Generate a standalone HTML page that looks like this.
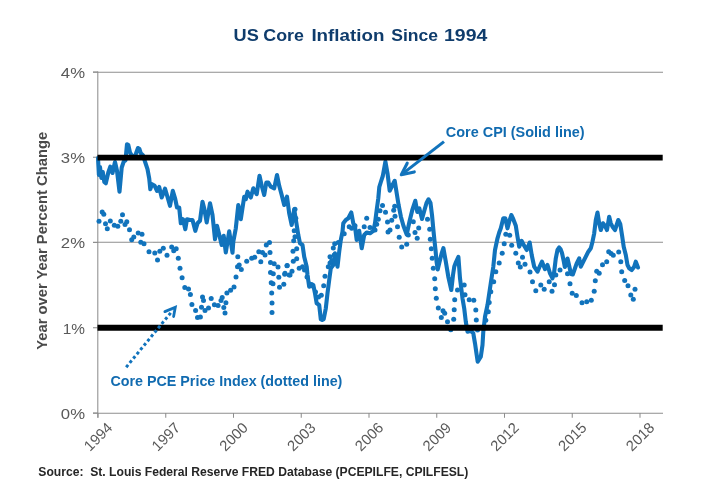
<!DOCTYPE html>
<html><head><meta charset="utf-8"><title>US Core Inflation Since 1994</title>
<style>
html,body{margin:0;padding:0;background:#fff;}
body{width:720px;height:500px;overflow:hidden;font-family:"Liberation Sans",sans-serif;}
svg{display:block;will-change:transform;}
text{font-family:"Liberation Sans",sans-serif;}
</style></head><body>
<svg width="720" height="500" viewBox="0 0 720 500">
<rect width="720" height="500" fill="#fff"/>
<g font-size="16.6" font-weight="bold" fill="#0f3c6c"><text x="233.6" y="41.3" textLength="25.2" lengthAdjust="spacingAndGlyphs">US</text><text x="263.3" y="41.3" textLength="40.6" lengthAdjust="spacingAndGlyphs">Core</text><text x="311.4" y="41.3" textLength="73" lengthAdjust="spacingAndGlyphs">Inflation</text><text x="391.2" y="41.3" textLength="46.8" lengthAdjust="spacingAndGlyphs">Since</text><text x="444.0" y="41.3" textLength="43.3" lengthAdjust="spacingAndGlyphs">1994</text></g>
<g stroke="#8e8e8e" stroke-width="1.05" fill="none">
<line x1="93" y1="72.3" x2="663" y2="72.3"/>
<line x1="93" y1="242.3" x2="663" y2="242.3"/>
<line x1="97.8" y1="71.6" x2="97.8" y2="417.8"/>
<line x1="93" y1="413.2" x2="663" y2="413.2"/>
<line x1="98.0" y1="413" x2="98.0" y2="417.8"/><line x1="165.75" y1="413" x2="165.75" y2="417.8"/><line x1="233.5" y1="413" x2="233.5" y2="417.8"/><line x1="301.25" y1="413" x2="301.25" y2="417.8"/><line x1="369.0" y1="413" x2="369.0" y2="417.8"/><line x1="436.75" y1="413" x2="436.75" y2="417.8"/><line x1="504.5" y1="413" x2="504.5" y2="417.8"/><line x1="572.25" y1="413" x2="572.25" y2="417.8"/><line x1="640.0" y1="413" x2="640.0" y2="417.8"/><line x1="93" y1="413.0" x2="98" y2="413.0"/><line x1="93" y1="327.75" x2="98" y2="327.75"/><line x1="93" y1="242.5" x2="98" y2="242.5"/><line x1="93" y1="157.25" x2="98" y2="157.25"/><line x1="93" y1="72.0" x2="98" y2="72.0"/>
</g>
<g font-size="14.8" fill="#595959"><text transform="translate(85.0,418.80) scale(1.13,1)" text-anchor="end">0%</text><text transform="translate(85.0,333.55) scale(1.04,1)" text-anchor="end">1%</text><text transform="translate(85.0,248.30) scale(1.13,1)" text-anchor="end">2%</text><text transform="translate(85.0,163.05) scale(1.13,1)" text-anchor="end">3%</text><text transform="translate(85.0,77.80) scale(1.13,1)" text-anchor="end">4%</text><text transform="translate(98.0,436.5) rotate(-45)" text-anchor="middle" y="5.3">1994</text><text transform="translate(165.75,436.5) rotate(-45)" text-anchor="middle" y="5.3">1997</text><text transform="translate(233.5,436.5) rotate(-45)" text-anchor="middle" y="5.3">2000</text><text transform="translate(301.25,436.5) rotate(-45)" text-anchor="middle" y="5.3">2003</text><text transform="translate(369.0,436.5) rotate(-45)" text-anchor="middle" y="5.3">2006</text><text transform="translate(436.75,436.5) rotate(-45)" text-anchor="middle" y="5.3">2009</text><text transform="translate(504.5,436.5) rotate(-45)" text-anchor="middle" y="5.3">2012</text><text transform="translate(572.25,436.5) rotate(-45)" text-anchor="middle" y="5.3">2015</text><text transform="translate(640.0,436.5) rotate(-45)" text-anchor="middle" y="5.3">2018</text></g>
<text transform="translate(47.2,240.8) rotate(-90)" text-anchor="middle" font-size="13.8" font-weight="bold" fill="#4a4a4a" textLength="218" lengthAdjust="spacingAndGlyphs">Year over Year Percent Change</text>
<path d="M98,158 L98.9,175 L100,167 L101.4,178 L102.8,172 L104.3,182 L105.8,183.3 L108.3,172.5 L110.3,166.7 L112.5,173.0 L115.0,162.0 L117.0,170.8 L119.5,191.7 L121.7,167.5 L123.7,161.7 L125.5,160.3 L127.0,144.2 L128.3,145.0 L130.0,152.5 L132.0,155.8 L135.0,156.3 L138.0,148.0 L139.3,148.7 L140.8,153.3 L143.0,155.3 L145.0,161.7 L147.5,169.2 L149.2,178.3 L150.3,189.2 L152.0,184.2 L154.7,185.8 L157.0,190.8 L159.2,187.0 L161.7,197.5 L165.0,188.7 L167.5,197.0 L170.0,205.8 L172.8,190.8 L175.0,198.0 L177.0,207.5 L179.2,207.5 L180.8,223.3 L183.0,219.2 L185.3,229.2 L187.0,219.2 L190.0,220.0 L192.5,220.0 L195.3,230.8 L197.5,223.3 L200.0,220.8 L202.5,201.7 L204.2,208.3 L206.7,222.5 L210.0,203.3 L212.5,215.0 L215.0,239.2 L217.0,225.8 L218.7,232.5 L221.7,245.0 L223.7,235.8 L225.8,252.5 L229.2,231.3 L232.5,252.8 L233.3,241.7 L235.8,228.3 L238.3,205.0 L240.8,219.2 L244.2,196.7 L245.8,199.2 L247.5,191.7 L250.8,197.5 L253.3,188.3 L256.7,194.2 L259.5,175.8 L261.7,185.8 L264.2,195.0 L266.3,182.5 L268.3,182.5 L270.8,186.7 L274.2,188.3 L277.0,175.0 L279.2,185.8 L281.7,195.0 L284.2,205.0 L287.0,196.7 L289.2,213.3 L291.7,225.0 L294.2,209.2 L296.7,225.0 L298.3,235.0 L300.0,243.3 L302.5,245.0 L304.2,256.7 L306.7,266.7 L307.5,275.0 L309.2,286.7 L311.7,284.2 L313.3,285.0 L315.0,293.3 L316.7,303.3 L319.2,305.0 L320.8,319.2 L322.2,320.0 L323.7,319.2 L325.8,308.3 L327.5,293.3 L329.2,280.0 L330.8,268.3 L333.3,265.0 L335.0,253.3 L337.5,266.7 L339.2,251.7 L340.8,240.0 L342.5,231.7 L343.3,223.3 L345.8,220.0 L348.3,218.3 L351.3,212.5 L353.3,223.3 L355.0,226.7 L356.7,240.0 L359.2,230.8 L361.7,248.3 L364.2,235.0 L366.7,232.5 L370.0,233.3 L373.3,230.8 L375.0,223.3 L376.7,210.0 L378.3,198.3 L379.3,187 L381,181.5 L382.8,176 L385.4,161.6 L387.5,173.3 L389.7,190.8 L392.5,185.0 L394.7,180.8 L396.7,193.3 L398.6,205 L400.9,216.7 L403.5,226 L406.7,234.5 L409.6,221 L412.3,210 L415.3,200.8 L417.3,212 L419.3,208.3 L422,219 L424.5,210 L426.5,203 L428.5,199.3 L430.5,203 L432,215 L433.3,229 L434.4,240 L435.5,250 L436.6,262 L437.7,269.5 L439.5,262 L441.5,254 L443.4,248.2 L445.8,261.7 L448.3,276.7 L451.3,290 L453,275 L454.3,266.5 L456,262 L458.4,256.8 L460,278.3 L462.5,298.3 L464.2,308.3 L465.8,321.7 L467.5,331.7 L470.8,330.8 L473.3,333.3 L475.0,343.3 L476.7,355.0 L477.7,361.7 L480.8,356.7 L482.5,345.0 L483.3,331.7 L485.0,316.7 L487.5,305.0 L490.8,283.0 L493.3,266.7 L495.0,250.0 L497.5,238.3 L499.2,232.5 L500.8,228.3 L503.3,218.3 L505.3,218.3 L507.5,228.3 L509.2,221.7 L511.3,215.0 L513.3,219.2 L515.8,225.8 L517.5,236.7 L519.2,246.7 L521.7,240.8 L524.2,245.8 L526.7,250.0 L529.7,242.5 L531.7,255.0 L534.2,266.7 L537.5,271.7 L540.0,265.8 L542.0,261.7 L545.0,269.2 L547.5,265.0 L550.0,273.3 L552.5,278.3 L554.2,271.7 L555.8,258.3 L557.5,250.0 L559.2,247.5 L560.5,249 L562,253 L563.5,260 L564.8,267 L566.3,264 L567.5,258.5 L569,265 L571,274 L572.8,274.5 L575.0,268.3 L576.7,263.3 L579.2,258.3 L580.8,266.7 L583.3,261.7 L585.8,256.7 L588.3,251.7 L590.8,248.3 L592.5,241.7 L594.2,233.3 L595.8,220.0 L597.5,212.5 L599.2,223.3 L600.8,230.0 L603.0,223.3 L605.0,225.8 L607.0,230.0 L609.2,216.7 L610.8,223.3 L612.5,226.7 L615.0,230.0 L618.3,220.0 L620.3,224.2 L622.0,235.0 L623.7,246.7 L625.8,255.0 L627.5,265.0 L629.2,268.3 L631.7,270.0 L634.2,266.7 L635.8,261.7 L638.0,267.5" fill="none" stroke="#1173bc" stroke-width="4.1" stroke-linejoin="round" stroke-linecap="round"/>
<g fill="#1173bc"><circle cx="99.0" cy="221.2" r="2.5"/><circle cx="102.2" cy="212.0" r="2.5"/><circle cx="103.8" cy="214.2" r="2.5"/><circle cx="105.5" cy="223.8" r="2.5"/><circle cx="107.3" cy="228.7" r="2.5"/><circle cx="110.3" cy="221.0" r="2.5"/><circle cx="114.3" cy="225.3" r="2.5"/><circle cx="117.8" cy="226.2" r="2.5"/><circle cx="120.8" cy="221.3" r="2.5"/><circle cx="122.5" cy="214.8" r="2.5"/><circle cx="125.0" cy="224.5" r="2.5"/><circle cx="126.8" cy="221.8" r="2.5"/><circle cx="129.5" cy="229.8" r="2.5"/><circle cx="131.7" cy="239.7" r="2.5"/><circle cx="133.8" cy="237.0" r="2.5"/><circle cx="138.2" cy="233.0" r="2.5"/><circle cx="142.0" cy="234.2" r="2.5"/><circle cx="140.8" cy="242.2" r="2.5"/><circle cx="144.0" cy="243.8" r="2.5"/><circle cx="149.0" cy="251.8" r="2.5"/><circle cx="154.8" cy="253.0" r="2.5"/><circle cx="159.8" cy="251.2" r="2.5"/><circle cx="163.3" cy="248.2" r="2.5"/><circle cx="157.5" cy="260.0" r="2.5"/><circle cx="167.0" cy="255.3" r="2.5"/><circle cx="171.7" cy="247.0" r="2.5"/><circle cx="173.7" cy="250.8" r="2.5"/><circle cx="176.2" cy="248.8" r="2.5"/><circle cx="178.3" cy="258.3" r="2.5"/><circle cx="180.0" cy="268.3" r="2.5"/><circle cx="182.1" cy="277.8" r="2.5"/><circle cx="184.8" cy="287.5" r="2.5"/><circle cx="188.5" cy="289.0" r="2.5"/><circle cx="190.4" cy="294.4" r="2.5"/><circle cx="191.9" cy="304.4" r="2.5"/><circle cx="195.6" cy="310.4" r="2.5"/><circle cx="197.5" cy="317.5" r="2.5"/><circle cx="200.4" cy="316.9" r="2.5"/><circle cx="201.5" cy="307.2" r="2.5"/><circle cx="202.5" cy="296.9" r="2.5"/><circle cx="203.5" cy="300.6" r="2.5"/><circle cx="205.0" cy="310.6" r="2.5"/><circle cx="208.5" cy="308.1" r="2.5"/><circle cx="211.2" cy="298.4" r="2.5"/><circle cx="214.4" cy="304.8" r="2.5"/><circle cx="218.1" cy="305.6" r="2.5"/><circle cx="221.0" cy="300.6" r="2.5"/><circle cx="222.2" cy="297.5" r="2.5"/><circle cx="223.8" cy="307.5" r="2.5"/><circle cx="225.9" cy="302.8" r="2.5"/><circle cx="225.0" cy="312.9" r="2.5"/><circle cx="226.9" cy="292.9" r="2.5"/><circle cx="230.6" cy="290.2" r="2.5"/><circle cx="234.0" cy="287.1" r="2.5"/><circle cx="236.0" cy="276.9" r="2.5"/><circle cx="237.5" cy="266.7" r="2.5"/><circle cx="239.2" cy="265.0" r="2.5"/><circle cx="241.3" cy="269.5" r="2.5"/><circle cx="237.8" cy="256.7" r="2.5"/><circle cx="246.7" cy="261.2" r="2.5"/><circle cx="251.7" cy="258.3" r="2.5"/><circle cx="254.7" cy="257.2" r="2.5"/><circle cx="258.8" cy="251.7" r="2.5"/><circle cx="262.5" cy="252.5" r="2.5"/><circle cx="265.0" cy="255.0" r="2.5"/><circle cx="260.8" cy="261.7" r="2.5"/><circle cx="266.3" cy="245.0" r="2.5"/><circle cx="269.5" cy="242.5" r="2.5"/><circle cx="270.0" cy="252.5" r="2.5"/><circle cx="270.5" cy="262.5" r="2.5"/><circle cx="274.2" cy="263.7" r="2.5"/><circle cx="278.0" cy="267.0" r="2.5"/><circle cx="270.5" cy="272.5" r="2.5"/><circle cx="273.3" cy="273.7" r="2.5"/><circle cx="278.8" cy="277.2" r="2.5"/><circle cx="271.2" cy="282.8" r="2.5"/><circle cx="273.0" cy="283.7" r="2.5"/><circle cx="279.5" cy="287.2" r="2.5"/><circle cx="283.8" cy="284.2" r="2.5"/><circle cx="271.7" cy="293.0" r="2.5"/><circle cx="272.0" cy="303.0" r="2.5"/><circle cx="272.0" cy="312.5" r="2.5"/><circle cx="284.7" cy="274.2" r="2.5"/><circle cx="287.2" cy="265.5" r="2.5"/><circle cx="289.2" cy="275.0" r="2.5"/><circle cx="295.0" cy="209.2" r="2.5"/><circle cx="295.8" cy="218.3" r="2.5"/><circle cx="294.2" cy="230.8" r="2.5"/><circle cx="295.0" cy="236.7" r="2.5"/><circle cx="293.7" cy="240.8" r="2.5"/><circle cx="296.7" cy="248.7" r="2.5"/><circle cx="293.0" cy="251.3" r="2.5"/><circle cx="296.7" cy="258.8" r="2.5"/><circle cx="293.3" cy="261.2" r="2.5"/><circle cx="287.0" cy="265.8" r="2.5"/><circle cx="299.2" cy="268.3" r="2.5"/><circle cx="302.5" cy="266.7" r="2.5"/><circle cx="292.0" cy="271.3" r="2.5"/><circle cx="285.0" cy="273.3" r="2.5"/><circle cx="290.0" cy="275.0" r="2.5"/><circle cx="611" cy="253.6" r="2.5"/><circle cx="304.5" cy="270" r="2.5"/><circle cx="307" cy="277" r="2.5"/><circle cx="309.5" cy="284" r="2.5"/><circle cx="312.5" cy="286" r="2.5"/><circle cx="315.5" cy="292" r="2.5"/><circle cx="318.5" cy="297" r="2.5"/><circle cx="325.0" cy="276.2" r="2.5"/><circle cx="323.7" cy="285.8" r="2.5"/><circle cx="321.3" cy="295.3" r="2.5"/><circle cx="328.3" cy="266.7" r="2.5"/><circle cx="330.0" cy="263.0" r="2.5"/><circle cx="331.7" cy="260.8" r="2.5"/><circle cx="330.0" cy="256.7" r="2.5"/><circle cx="334.2" cy="255.0" r="2.5"/><circle cx="333.3" cy="248.0" r="2.5"/><circle cx="334.7" cy="243.7" r="2.5"/><circle cx="338.3" cy="242.5" r="2.5"/><circle cx="344.2" cy="233.7" r="2.5"/><circle cx="349.2" cy="226.7" r="2.5"/><circle cx="351.7" cy="228.3" r="2.5"/><circle cx="355.0" cy="225.8" r="2.5"/><circle cx="364.2" cy="226.7" r="2.5"/><circle cx="366.7" cy="218.3" r="2.5"/><circle cx="370.0" cy="227.5" r="2.5"/><circle cx="375.0" cy="230.0" r="2.5"/><circle cx="376.7" cy="224.2" r="2.5"/><circle cx="378.3" cy="219.2" r="2.5"/><circle cx="380.0" cy="210.8" r="2.5"/><circle cx="382.5" cy="205.5" r="2.5"/><circle cx="385.5" cy="212.2" r="2.5"/><circle cx="387.5" cy="222.0" r="2.5"/><circle cx="391.7" cy="220.3" r="2.5"/><circle cx="395.0" cy="216.2" r="2.5"/><circle cx="393.7" cy="210.3" r="2.5"/><circle cx="394.7" cy="206.3" r="2.5"/><circle cx="390.0" cy="230.0" r="2.5"/><circle cx="388.0" cy="232.0" r="2.5"/><circle cx="397.5" cy="226.7" r="2.5"/><circle cx="399.2" cy="237.2" r="2.5"/><circle cx="406.7" cy="244.2" r="2.5"/><circle cx="401.7" cy="247.0" r="2.5"/><circle cx="408.3" cy="235.0" r="2.5"/><circle cx="413.3" cy="221.7" r="2.5"/><circle cx="418.7" cy="228.0" r="2.5"/><circle cx="415.0" cy="232.5" r="2.5"/><circle cx="417.2" cy="238.3" r="2.5"/><circle cx="427.5" cy="219.2" r="2.5"/><circle cx="429.7" cy="229.2" r="2.5"/><circle cx="430.3" cy="239.2" r="2.5"/><circle cx="431.3" cy="248.7" r="2.5"/><circle cx="432.2" cy="258.3" r="2.5"/><circle cx="433.3" cy="268.3" r="2.5"/><circle cx="434.7" cy="278.8" r="2.5"/><circle cx="435.3" cy="288.7" r="2.5"/><circle cx="436.3" cy="298.3" r="2.5"/><circle cx="438.3" cy="308.0" r="2.5"/><circle cx="443.0" cy="310.8" r="2.5"/><circle cx="444.7" cy="313.3" r="2.5"/><circle cx="441.3" cy="317.5" r="2.5"/><circle cx="447.5" cy="321.7" r="2.5"/><circle cx="453.7" cy="319.2" r="2.5"/><circle cx="454.2" cy="309.7" r="2.5"/><circle cx="454.7" cy="299.7" r="2.5"/><circle cx="457.5" cy="290.0" r="2.5"/><circle cx="464.2" cy="285.0" r="2.5"/><circle cx="465.0" cy="294.7" r="2.5"/><circle cx="469.2" cy="299.7" r="2.5"/><circle cx="473.8" cy="300.3" r="2.5"/><circle cx="475.8" cy="310.0" r="2.5"/><circle cx="476.3" cy="320.0" r="2.5"/><circle cx="488.3" cy="311.7" r="2.5"/><circle cx="489.2" cy="302.5" r="2.5"/><circle cx="490.8" cy="291.7" r="2.5"/><circle cx="493.7" cy="281.7" r="2.5"/><circle cx="495.8" cy="271.7" r="2.5"/><circle cx="499.2" cy="263.0" r="2.5"/><circle cx="502.2" cy="253.3" r="2.5"/><circle cx="504.2" cy="243.7" r="2.5"/><circle cx="511.7" cy="245.3" r="2.5"/><circle cx="515.8" cy="253.3" r="2.5"/><circle cx="522.5" cy="257.2" r="2.5"/><circle cx="518.3" cy="263.0" r="2.5"/><circle cx="520.3" cy="267.0" r="2.5"/><circle cx="525.0" cy="264.2" r="2.5"/><circle cx="530.0" cy="272.0" r="2.5"/><circle cx="532.5" cy="281.7" r="2.5"/><circle cx="535.8" cy="290.8" r="2.5"/><circle cx="540.8" cy="285.0" r="2.5"/><circle cx="544.2" cy="289.2" r="2.5"/><circle cx="450.8" cy="329.7" r="2.5"/><circle cx="477.5" cy="330.0" r="2.5"/><circle cx="485.8" cy="320.3" r="2.5"/><circle cx="505.8" cy="234.2" r="2.5"/><circle cx="509.7" cy="235.3" r="2.5"/><circle cx="549.2" cy="281.7" r="2.5"/><circle cx="552.0" cy="291.3" r="2.5"/><circle cx="554.5" cy="284.7" r="2.5"/><circle cx="555.8" cy="275.0" r="2.5"/><circle cx="560.0" cy="270.0" r="2.5"/><circle cx="567.5" cy="273.7" r="2.5"/><circle cx="570.0" cy="283.7" r="2.5"/><circle cx="572.2" cy="293.3" r="2.5"/><circle cx="576.3" cy="295.5" r="2.5"/><circle cx="582.0" cy="302.8" r="2.5"/><circle cx="586.7" cy="301.7" r="2.5"/><circle cx="591.3" cy="300.3" r="2.5"/><circle cx="594.2" cy="291.3" r="2.5"/><circle cx="595.3" cy="280.8" r="2.5"/><circle cx="596.7" cy="271.3" r="2.5"/><circle cx="599.2" cy="273.3" r="2.5"/><circle cx="602.5" cy="264.7" r="2.5"/><circle cx="606.7" cy="261.7" r="2.5"/><circle cx="608.7" cy="251.7" r="2.5"/><circle cx="613.3" cy="255.3" r="2.5"/><circle cx="618.7" cy="252.0" r="2.5"/><circle cx="620.8" cy="261.7" r="2.5"/><circle cx="621.7" cy="271.7" r="2.5"/><circle cx="624.7" cy="280.5" r="2.5"/><circle cx="628.0" cy="285.8" r="2.5"/><circle cx="635.0" cy="289.2" r="2.5"/><circle cx="630.8" cy="295.0" r="2.5"/><circle cx="633.3" cy="299.2" r="2.5"/></g>
<g stroke="#000" stroke-width="5.9"><line x1="97.5" y1="157.65" x2="662.7" y2="157.65"/><line x1="97.5" y1="327.7" x2="662.7" y2="327.7"/></g>
<g stroke="#1173bc" fill="none" stroke-width="3.1" stroke-linejoin="round">
<path d="M444,141.6 L401.8,174.4"/><path d="M407.2,163.2 L401.3,174.8 L414.3,171.9" stroke-linecap="round"/>
</g>
<g stroke="#1173bc" fill="none" stroke-width="3">
<path d="M126.2,367.2 L172.5,310.7" stroke-dasharray="3 2.6"/>
<path d="M164.9,311.6 L175.3,307.3 L173.6,316.6" stroke-width="2.8" stroke-linejoin="miter" stroke-linecap="round"/>
</g>
<text x="445.8" y="137.3" font-size="14" font-weight="bold" fill="#116bb0" textLength="138.8" lengthAdjust="spacingAndGlyphs">Core CPI (Solid line)</text>
<text x="110.4" y="385.7" font-size="14" font-weight="bold" fill="#116bb0" textLength="232" lengthAdjust="spacingAndGlyphs">Core PCE Price Index (dotted line)</text>
<text x="38.3" y="476.3" font-size="12.1" font-weight="bold" fill="#262626" textLength="430" lengthAdjust="spacingAndGlyphs" xml:space="preserve">Source:  St. Louis Federal Reserve FRED Database (PCEPILFE, CPILFESL)</text>
</svg>
</body></html>
